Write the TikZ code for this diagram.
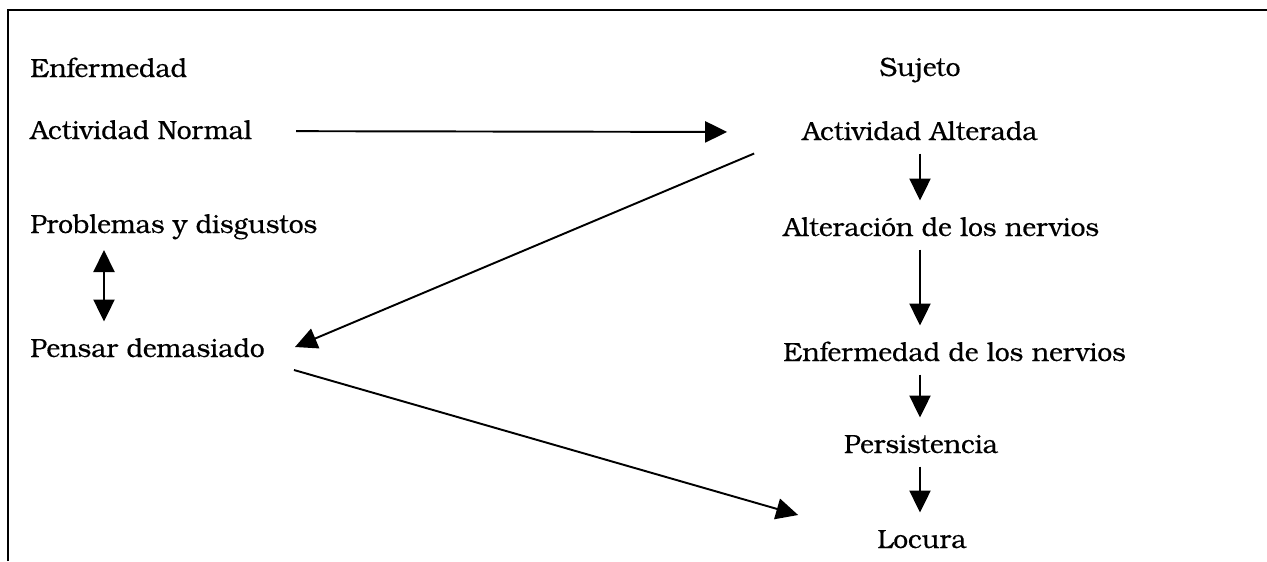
\documentclass[tikz,border=0pt]{standalone}
\usepackage{fontspec}
\setmainfont[FakeBold=0.4]{texgyrebonum-regular.otf}
\usetikzlibrary{arrows.meta}
\tikzset{
  lbl/.style={inner xsep=0pt,inner ysep=4.5pt,text height=15.5pt,text depth=3pt,font=\fontsize{15}{18}\selectfont},
  flecha/.style={line width=1.1pt,-{Triangle[length=12.5pt,width=12pt]}},
  doble/.style={line width=1.1pt,{Triangle[length=12.5pt,width=12pt]}-{Triangle[length=12.5pt,width=12pt]}}
}
\begin{document}
\begin{tikzpicture}[x=0.02cm,y=-0.02cm]
\useasboundingbox (0,0) rectangle (1267,561);
\draw[line width=1.1pt] (8,561)--(8,10)--(1267,10);
% columna izquierda
\node[lbl,anchor=base west] (enf) at (30,77) {Enfermedad};
\node[lbl,anchor=base west] (norm) at (30,139) {Actividad Normal};
\node[lbl,anchor=base west] (prob) at (30,233) {Problemas y disgustos};
\node[lbl,anchor=base west] (pens) at (30,357) {Pensar demasiado};
% columna derecha
\node[lbl,anchor=base] (suj) at (920,76) {Sujeto};
\node[lbl,anchor=base] (alt) at (920,140) {Actividad Alterada};
\node[lbl,anchor=base west] (nerv) at (783,236) {Alteración de los nervios};
\node[lbl,anchor=base west] (enfn) at (783,361) {Enfermedad de los nervios};
\node[lbl,anchor=base] (pers) at (921,453) {Persistencia};
\node[lbl,anchor=base] (loc) at (922,548) {Locura};
% flechas
\draw[flecha,shorten <=0.88cm,shorten >=1.5cm] ([yshift=4.5pt]norm.base east) -- ([yshift=4.5pt]alt.base west);
\draw[flecha] (alt.south) -- (nerv.north -| alt.south);
\draw[flecha] (nerv.south -| alt.south) -- (enfn.north -| alt.south);
\draw[flecha] (enfn.south -| alt.south) -- (pers.north -| alt.south);
\draw[flecha] (pers.south -| alt.south) -- (loc.north -| alt.south);
\draw[doble,shorten <=2pt] (prob.south -| 104,0) -- (pens.north -| 104,0);
\draw[flecha] ([xshift=-0.96cm]alt.south west) -- ([xshift=0.6cm,yshift=0.2cm]pens.base east);
\draw[flecha] ([xshift=0.58cm,yshift=-0.26cm]pens.base east) -- ([xshift=-1.58cm,yshift=0.66cm]loc.base west);
\end{tikzpicture}
\end{document}
